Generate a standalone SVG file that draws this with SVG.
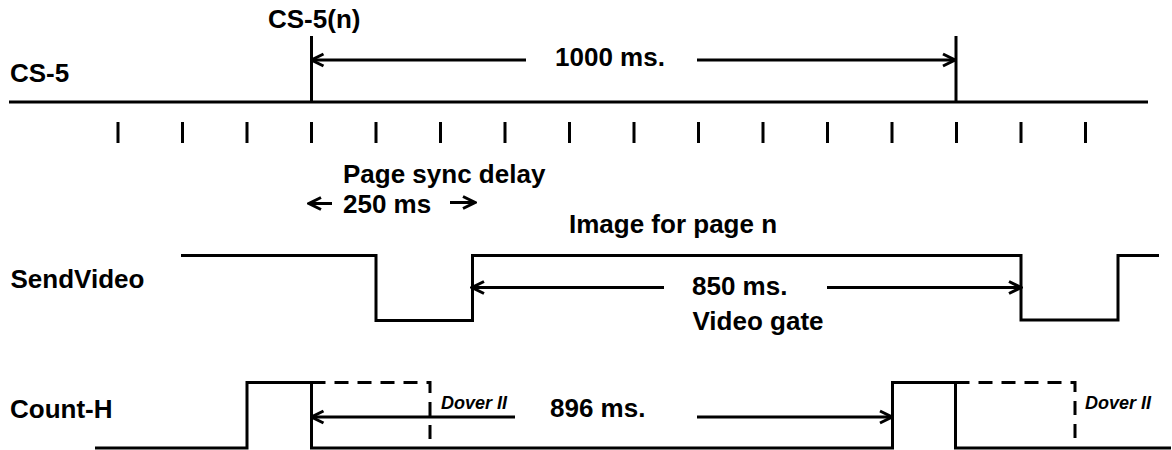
<svg xmlns="http://www.w3.org/2000/svg" width="1172" height="450" viewBox="0 0 1172 450">
<style>
.w{fill:none;stroke:#000;stroke-width:3;stroke-linejoin:miter;stroke-linecap:butt}
.d{fill:none;stroke:#000;stroke-width:3;stroke-dasharray:14 9}
.a{fill:none;stroke:#000;stroke-width:3}
.t{font-family:"Liberation Sans",Arial,Helvetica,sans-serif;font-weight:bold;font-size:26px;fill:#000}
.s{font-family:"Liberation Sans",Arial,Helvetica,sans-serif;font-weight:bold;font-style:italic;font-size:18px;fill:#000}
</style>
<defs>
<marker id="ah" viewBox="-14 -8 16 16" refX="0" refY="0" markerWidth="16" markerHeight="16" markerUnits="userSpaceOnUse" orient="auto">
<path d="M-12,-6 L0,0 L-12,6" fill="none" stroke="#000" stroke-width="3"/>
</marker>
</defs>
<rect width="1172" height="450" fill="#fff"/>
<g id="cs5">
<text class="t" x="10" y="82">CS-5</text>
<text class="t" x="268" y="28">CS-5(n)</text>
<path class="w" d="M9,102 H1148 M311.5,36 V102 M956,36 V102"/>
<text class="t" x="555" y="66">1000 ms.</text>
</g>
<g id="ticks">
<path class="w" d="M118,122V143 M182.5,122V143 M247,122V143 M311.5,122V143 M376,122V143 M440.5,122V143 M505,122V143 M569.5,122V143 M634,122V143 M698.5,122V143 M763,122V143 M827.5,122V143 M892,122V143 M956.5,122V143 M1021,122V143 M1085.5,122V143"/>
</g>
<g id="pagesync">
<text class="t" x="343" y="183">Page sync delay</text>
<text class="t" x="343" y="213">250 ms</text>
</g>
<g id="sendvideo">
<text class="t" x="10.5" y="288">SendVideo</text>
<text class="t" x="569" y="233">Image for page n</text>
<path class="w" d="M181,255.5 H376 V320.5 H472.5 V255.5 H1021 V320 H1118 V255.5 H1159"/>
<text class="t" x="692" y="295">850 ms.</text>
<text class="t" x="692.5" y="330">Video gate</text>
</g>
<g id="counth">
<text class="t" x="10" y="418">Count-H</text>
<path class="w" d="M95,448 H247 V382.5 H311.5 V448 H892.5 V382.5 H955.5 V448 H1171"/>
<path class="d" d="M311.5,382.5 H430 V448"/>
<path class="d" d="M955.5,382.5 H1075 V448"/>
<text class="s" x="441" y="409">Dover II</text>
<text class="t" x="550" y="417">896 ms.</text>
<text class="s" x="1085" y="409">Dover II</text>
</g>
<g id="connectors">
<line class="a" x1="526" y1="60" x2="311.5" y2="60" marker-end="url(#ah)"/>
<line class="a" x1="697" y1="60" x2="955" y2="60" marker-end="url(#ah)"/>
<line class="a" x1="332" y1="203.5" x2="309" y2="203.5" marker-end="url(#ah)"/>
<line class="a" x1="450" y1="202.5" x2="475" y2="202.5" marker-end="url(#ah)"/>
<line class="a" x1="664" y1="287.5" x2="472" y2="287.5" marker-end="url(#ah)"/>
<line class="a" x1="827" y1="287.5" x2="1021" y2="287.5" marker-end="url(#ah)"/>
<line class="a" x1="515" y1="417" x2="311.5" y2="417" marker-end="url(#ah)"/>
<line class="a" x1="697" y1="417" x2="892" y2="417" marker-end="url(#ah)"/>
</g>
</svg>
